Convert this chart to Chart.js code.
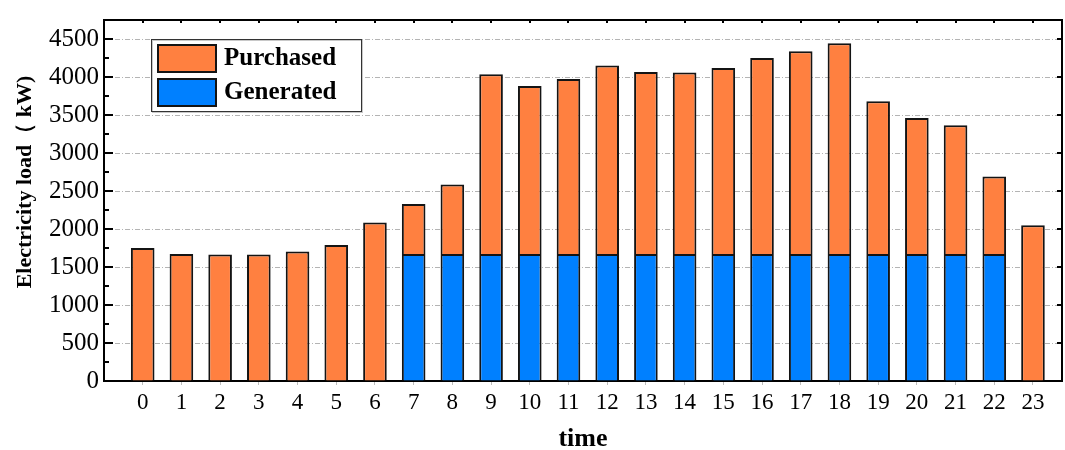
<!DOCTYPE html>
<html>
<head>
<meta charset="utf-8">
<title>Electricity load</title>
<script src="https://cdn.jsdelivr.net/npm/chart.js@4"></script>
<style>
  html, body { margin: 0; padding: 0; background: #ffffff; }
  #wrap { width: 1065px; height: 450px; }
</style>
</head>
<body>
<div id="wrap"><canvas id="loadChart" width="1065" height="450"></canvas></div>
<script>
// hourly load, kW
const hours = [0, 1, 2, 3, 4, 5, 6, 7, 8, 9, 10, 11, 12, 13, 14, 15, 16, 17, 18, 19, 20, 21, 22, 23];
const generated = [null, null, null, null, null, null, null, 1670, 1670, 1670, 1670, 1670, 1670, 1670, 1670, 1670, 1670, 1670, 1670, 1670, 1670, 1670, 1670, null];
const purchased = [1750, 1670, 1665, 1665, 1705, 1790, 2085, 660, 915, 2365, 2210, 2305, 2480, 2395, 2390, 2450, 2580, 2670, 2775, 2010, 1790, 1695, 1020, 2050];
const yTicks = [0, 500, 1000, 1500, 2000, 2500, 3000, 3500, 4000, 4500];
const yTitle = "Electricity load（ kW)";

const SERIF = "'Liberation Serif', 'Times New Roman', serif";
const ORANGE = "#FF8040";
const BLUE = "#0080FF";
const EDGE = "#141414";

// frame: top/right lines, inward ticks, rotated y title and the boxed legend
const framePlugin = {
    id: "frame",
    afterDraw(chart) {
        const { ctx, chartArea: a, scales } = chart;
        const x = scales.x, y = scales.y;
        ctx.save();
        ctx.strokeStyle = "#000";
        ctx.lineWidth = 2;
        ctx.beginPath();
        ctx.moveTo(a.left, a.top);
        ctx.lineTo(a.right, a.top);
        ctx.lineTo(a.right, a.bottom);
        ctx.stroke();

        // left axis: major ticks every 500, minor every 250
        ctx.beginPath();
        for (let v = 0; v <= 4750; v += 250) {
            const py = Math.round(y.getPixelForValue(v));
            const major = v % 500 === 0;
            ctx.moveTo(a.left, py);
            ctx.lineTo(a.left + (major ? 9 : 5), py);
            if (major) {
                ctx.moveTo(a.right, py);
                ctx.lineTo(a.right - 5, py);
            }
        }
        // top axis ticks at each hour
        hours.forEach(h => {
            const px = Math.round(x.getPixelForValue(h));
            ctx.moveTo(px, a.top);
            ctx.lineTo(px, a.top + 3);
        });
        ctx.stroke();

        // y axis title
        ctx.save();
        ctx.translate(25, 182);
        ctx.rotate(-Math.PI / 2);
        ctx.font = "bold 22px " + SERIF;
        ctx.fillStyle = "#000";
        ctx.textAlign = "center";
        ctx.textBaseline = "middle";
        ctx.fillText(yTitle, 0, 0);
        ctx.restore();

        // legend
        const lx = 151, ly = 39, lw = 210, lh = 72;
        ctx.fillStyle = "#fff";
        ctx.fillRect(lx, ly, lw, lh);
        ctx.strokeStyle = "#c8c8c8";
        ctx.lineWidth = 1;
        ctx.strokeRect(lx + 1.5, ly + 1.5, lw, lh);
        ctx.strokeStyle = "#333";
        ctx.strokeRect(lx + 0.5, ly + 0.5, lw, lh);

        const items = [chart.data.datasets[1], chart.data.datasets[0]];
        ctx.font = "bold 25px " + SERIF;
        ctx.textBaseline = "middle";
        ctx.textAlign = "left";
        items.forEach((ds, i) => {
            const sy = ly + 5 + i * 34;
            ctx.fillStyle = ds.backgroundColor;
            ctx.fillRect(lx + 6, sy, 60, 29);
            ctx.strokeStyle = EDGE;
            ctx.lineWidth = 2;
            ctx.strokeRect(lx + 7, sy + 1, 58, 27);
            ctx.fillStyle = "#000";
            ctx.fillText(ds.label, lx + 73, sy + 15);
        });
        ctx.restore();
    }
};

new Chart(document.getElementById("loadChart").getContext("2d"), {
    type: "bar",
    data: {
        labels: hours,
        datasets: [
            {
                label: "Generated",
                data: generated,
                backgroundColor: BLUE,
                borderColor: EDGE,
                borderWidth: 2,
                barPercentage: 0.61,
                categoryPercentage: 1,
            },
            {
                label: "Purchased",
                data: purchased,
                backgroundColor: ORANGE,
                borderColor: EDGE,
                borderWidth: 2,
                barPercentage: 0.61,
                categoryPercentage: 1,
            },
        ],
    },
    options: {
        responsive: false,
        animation: false,
        devicePixelRatio: 1,
        layout: { padding: { top: 8, right: 3, left: 0, bottom: 0 } },
        plugins: {
            legend: { display: false },
            tooltip: { enabled: false },
        },
        scales: {
            x: {
                type: "linear",
                stacked: true,
                offset: false,
                min: -1,
                max: 23.75,
                afterBuildTicks: axis => { axis.ticks = hours.map(h => ({ value: h })); },
                afterFit: axis => { axis.height = 69; },
                grid: { drawOnChartArea: false, offset: false, tickLength: 4, color: "#bdbdbd" },
                border: { color: "#000", width: 2 },
                ticks: {
                    color: "#000",
                    padding: 4,
                    font: { family: SERIF, size: 23 },
                    maxRotation: 0,
                    autoSkip: false,
                    callback: v => String(v),
                },
                title: {
                    display: true,
                    text: "time",
                    color: "#000",
                    font: { family: SERIF, size: 26, weight: "bold", lineHeight: 0.8 },
                    padding: 0,
                },
            },
            y: {
                stacked: true,
                min: 0,
                max: 4750,
                afterBuildTicks: axis => { axis.ticks = yTicks.map(v => ({ value: v })); },
                afterFit: axis => { axis.width = 104; },
                grid: {
                    drawTicks: false,
                    lineWidth: 1,
                    color: ctx => (ctx.tick && ctx.tick.value === 0 ? "rgba(0,0,0,0)" : "#b4b4b4"),
                },
                border: { color: "#000", width: 2, dash: [5, 2, 1, 2] },
                ticks: {
                    color: "#000",
                    padding: 5,
                    font: { family: SERIF, size: 25 },
                    callback: v => String(v),
                },
            },
        },
    },
    plugins: [framePlugin],
});
</script>
</body>
</html>
